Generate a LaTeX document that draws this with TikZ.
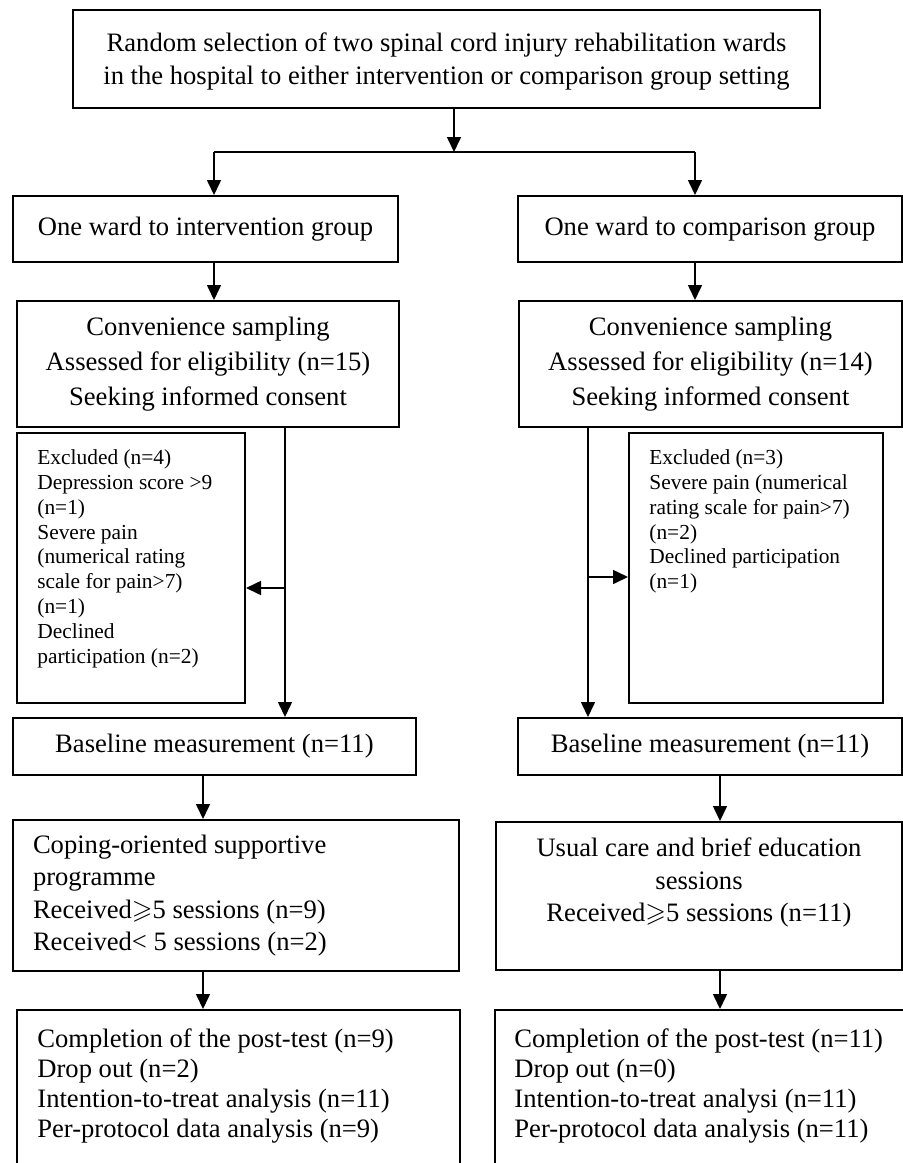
\documentclass[tikz,border=0pt]{standalone}
\usepackage{amssymb}
\usepackage{fontspec}
\setmainfont{Liberation Serif}
\usetikzlibrary{arrows.meta,positioning}
\newcommand{\bodysize}{\fontsize{13.3pt}{16.5pt}\selectfont}
\newcommand{\notesize}{\fontsize{10.7pt}{12.4pt}\selectfont}
\newcommand{\atleast}{$\geqslant$}

\begin{document}
\begin{tikzpicture}[
    x=0.5pt,y=-0.5pt,
    box/.style={draw, line width=1pt, inner sep=0pt, align=center, font=\bodysize},
    lbox/.style={box, align=flush left, inner xsep=10pt, inner ysep=0pt},
    note/.style={inner sep=0pt, anchor=north west, align=flush left},
    arr/.style={-{Triangle[length=7.5pt,width=7pt]}, line width=0.8pt},
    link/.style={line width=0.8pt}
  ]
  \useasboundingbox (0,0) rectangle (903,1163);

  \node[box, minimum width=373.5pt, minimum height=49pt] (top) at (446.5,59)
    {\rule{0pt}{12pt}Random selection of two spinal cord injury rehabilitation wards\\
     in the hospital to either intervention or comparison group setting};

  \node[box, minimum width=192.5pt, minimum height=33pt] (lward) at (205.5,229)
    {One ward to intervention group};
  \node[box, minimum width=192pt, minimum height=33pt] (rward) at (710,229)
    {One ward to comparison group};

  \node[box, minimum width=191pt, minimum height=63pt,
    font=\fontsize{13.3pt}{17.5pt}\selectfont] (lconv) at (208,364)
    {Convenience sampling\\ Assessed for eligibility (n=15)\\ Seeking informed consent};
  \node[box, minimum width=191.5pt, minimum height=63pt,
    font=\fontsize{13.3pt}{17.5pt}\selectfont] (rconv) at (710.5,364)
    {Convenience sampling\\ Assessed for eligibility (n=14)\\ Seeking informed consent};

  \node[box, minimum width=114pt, minimum height=135pt] (lexcl) at (131,568) {};
  \node[note, font=\notesize] (lexcltext) at (37,449.5)
    {Excluded (n=4)\\ Depression score >9\\ (n=1)\\ Severe pain\\ (numerical rating\\
     scale for pain>7)\\ (n=1)\\ Declined\\ participation (n=2)};
  \node[box, minimum width=127pt, minimum height=135pt] (rexcl) at (756,568) {};
  \node[note, font=\notesize] (rexcltext) at (649,449.5)
    {Excluded (n=3)\\ Severe pain (numerical\\ rating scale for pain>7)\\ (n=2)\\
     Declined participation\\ (n=1)};

  \node[box, minimum width=201.5pt, minimum height=28.5pt] (lbase) at (214.4,746.5)
    {Baseline measurement (n=11)};
  \node[box, minimum width=192pt, minimum height=28.5pt] (rbase) at (710,746.5)
    {Baseline measurement (n=11)};

  \node[lbox, text width=203pt, minimum height=75.5pt,
    font=\fontsize{13.3pt}{16.2pt}\selectfont] (lcope) at (236,895.5)
    {Coping-oriented supportive\\ programme\\ Received\atleast5 sessions (n=9)\\
     Received< 5 sessions (n=2)};
  \node[box, minimum width=203pt, minimum height=74pt,
    font=\fontsize{13.3pt}{16.2pt}\selectfont] (rcare) at (699,896)
    {Usual care and brief education\\ sessions\\ Received\atleast5 sessions (n=11)\\ \mbox{}};

  \node[box, minimum width=221.5pt, minimum height=85pt] (lfinal) at (238.5,1095) {};
  \node[box, minimum width=210pt, minimum height=85pt] (rfinal) at (705,1095) {};
  \node[note, font=\fontsize{13.3pt}{15pt}\selectfont] (lfinaltext) at (37,1028)
    {Completion of the post-test (n=9)\\ Drop out (n=2)\\
     Intention-to-treat analysis (n=11)\\ Per-protocol data analysis (n=9)};
  \node[note, font=\fontsize{13.3pt}{15pt}\selectfont] (rfinaltext) at (514,1028)
    {Completion of the post-test (n=11)\\ Drop out (n=0)\\
     Intention-to-treat analysi (n=11)\\ Per-protocol data analysis (n=11)};

  \coordinate (split) at (454,152);
  \coordinate (lsplit) at (214,152);
  \coordinate (rsplit) at (695,152);
  \coordinate (ltap) at (285,588);
  \coordinate (rtap) at (588,577);
  \coordinate (lcol) at (203,775);
  \coordinate (rcol) at (720,775);

  \draw[arr] (top.south -| split) -- (split);
  \draw[link] (lsplit) -- (rsplit);
  \draw[arr] (lsplit) -- (lsplit |- lward.north);
  \draw[arr] (rsplit) -- (rsplit |- rward.north);
  \draw[arr] (lsplit |- lward.south) -- (lsplit |- lconv.north);
  \draw[arr] (rsplit |- rward.south) -- (rsplit |- rconv.north);
  \draw[arr] (ltap |- lconv.south) -- (ltap |- lbase.north);
  \draw[arr] (ltap) -- (ltap -| lexcl.east);
  \draw[arr] (rtap |- rconv.south) -- (rtap |- rbase.north);
  \draw[arr] (rtap) -- (rtap -| rexcl.west);
  \draw[arr] (lcol |- lbase.south) -- (lcol |- lcope.north);
  \draw[arr] (rcol |- rbase.south) -- (rcol |- rcare.north);
  \draw[arr] (lcol |- lcope.south) -- (lcol |- lfinal.north);
  \draw[arr] (rcol |- rcare.south) -- (rcol |- rfinal.north);
\end{tikzpicture}
\end{document}
